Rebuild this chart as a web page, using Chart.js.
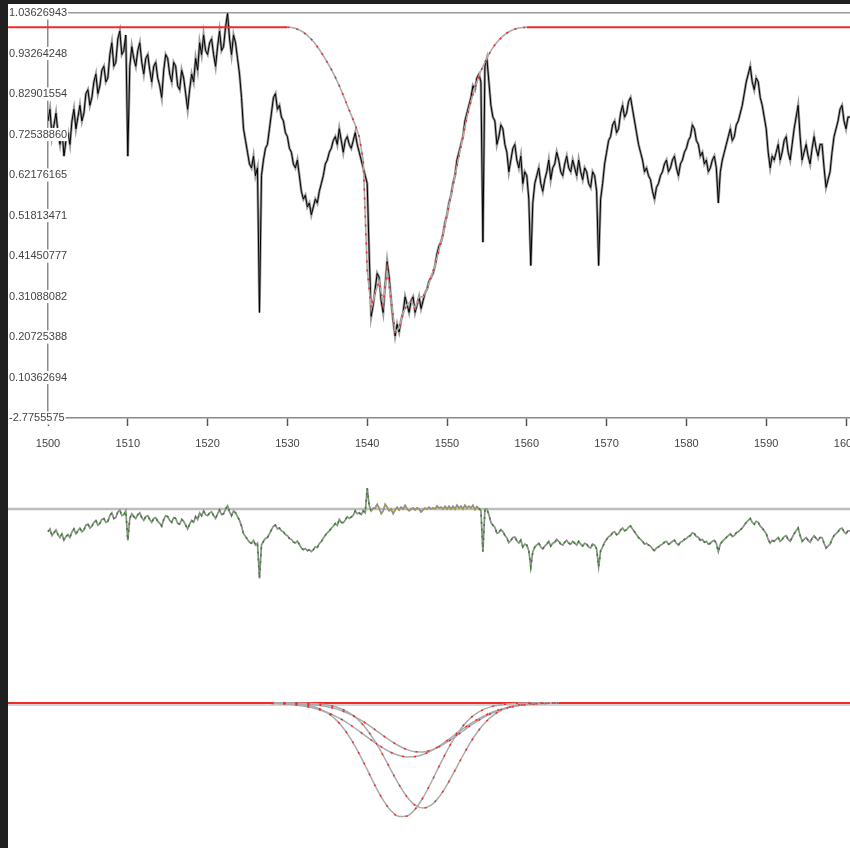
<!DOCTYPE html>
<html><head><meta charset="utf-8">
<script src="https://cdn.jsdelivr.net/npm/chart.js@4/dist/chart.umd.min.js"></script>
<style>
html,body{margin:0;padding:0;background:#202020;width:850px;height:848px;overflow:hidden;}
#sheet{position:absolute;left:8px;top:4px;width:842px;height:844px;background:#fff;}
canvas{position:absolute;left:8px;}
#c1{top:4px;width:842px;height:456px;}
#c2{top:460px;width:842px;height:180px;}
#c3{top:640px;width:842px;height:208px;}
</style></head><body>
<div id="sheet"></div>
<canvas id="c1" width="842" height="456"></canvas>
<canvas id="c2" width="842" height="180"></canvas>
<canvas id="c3" width="842" height="208"></canvas>
<script>
// ---------- data ----------
const wavelength = [
1500,1500.25,1500.5,1500.75,1501,1501.25,1501.5,1501.75,1502,1502.25,1502.5,1502.75,1503,1503.25,1503.5,1503.75,1504,1504.25,1504.5,1504.75,
1505,1505.25,1505.5,1505.75,1506,1506.25,1506.5,1506.75,1507,1507.25,1507.5,1507.75,1508,1508.25,1508.5,1508.75,1509,1509.25,1509.5,1509.75,
1510,1510.25,1510.5,1510.75,1511,1511.25,1511.5,1511.75,1512,1512.25,1512.5,1512.75,1513,1513.25,1513.5,1513.75,1514,1514.25,1514.5,1514.75,
1515,1515.25,1515.5,1515.75,1516,1516.25,1516.5,1516.75,1517,1517.25,1517.5,1517.75,1518,1518.25,1518.5,1518.75,1519,1519.25,1519.5,1519.75,
1520,1520.25,1520.5,1520.75,1521,1521.25,1521.5,1521.75,1522,1522.25,1522.5,1522.75,1523,1523.25,1523.5,1523.75,1524,1524.25,1524.5,1524.75,
1525,1525.25,1525.5,1525.75,1526,1526.25,1526.5,1526.75,1527,1527.25,1527.5,1527.75,1528,1528.25,1528.5,1528.75,1529,1529.25,1529.5,1529.75,
1530,1530.25,1530.5,1530.75,1531,1531.25,1531.5,1531.75,1532,1532.25,1532.5,1532.75,1533,1533.25,1533.5,1533.75,1534,1534.25,1534.5,1534.75,
1535,1535.25,1535.5,1535.75,1536,1536.25,1536.5,1536.75,1537,1537.25,1537.5,1537.75,1538,1538.25,1538.5,1538.75,1539,1539.25,1539.5,1539.75,
1540,1540.25,1540.5,1540.75,1541,1541.25,1541.5,1541.75,1542,1542.25,1542.5,1542.75,1543,1543.25,1543.5,1543.75,1544,1544.25,1544.5,1544.75,
1545,1545.25,1545.5,1545.75,1546,1546.25,1546.5,1546.75,1547,1547.25,1547.5,1547.75,1548,1548.25,1548.5,1548.75,1549,1549.25,1549.5,1549.75,
1550,1550.25,1550.5,1550.75,1551,1551.25,1551.5,1551.75,1552,1552.25,1552.5,1552.75,1553,1553.25,1553.5,1553.75,1554,1554.25,1554.5,1554.75,
1555,1555.25,1555.5,1555.75,1556,1556.25,1556.5,1556.75,1557,1557.25,1557.5,1557.75,1558,1558.25,1558.5,1558.75,1559,1559.25,1559.5,1559.75,
1560,1560.25,1560.5,1560.75,1561,1561.25,1561.5,1561.75,1562,1562.25,1562.5,1562.75,1563,1563.25,1563.5,1563.75,1564,1564.25,1564.5,1564.75,
1565,1565.25,1565.5,1565.75,1566,1566.25,1566.5,1566.75,1567,1567.25,1567.5,1567.75,1568,1568.25,1568.5,1568.75,1569,1569.25,1569.5,1569.75,
1570,1570.25,1570.5,1570.75,1571,1571.25,1571.5,1571.75,1572,1572.25,1572.5,1572.75,1573,1573.25,1573.5,1573.75,1574,1574.25,1574.5,1574.75,
1575,1575.25,1575.5,1575.75,1576,1576.25,1576.5,1576.75,1577,1577.25,1577.5,1577.75,1578,1578.25,1578.5,1578.75,1579,1579.25,1579.5,1579.75,
1580,1580.25,1580.5,1580.75,1581,1581.25,1581.5,1581.75,1582,1582.25,1582.5,1582.75,1583,1583.25,1583.5,1583.75,1584,1584.25,1584.5,1584.75,
1585,1585.25,1585.5,1585.75,1586,1586.25,1586.5,1586.75,1587,1587.25,1587.5,1587.75,1588,1588.25,1588.5,1588.75,1589,1589.25,1589.5,1589.75,
1590,1590.25,1590.5,1590.75,1591,1591.25,1591.5,1591.75,1592,1592.25,1592.5,1592.75,1593,1593.25,1593.5,1593.75,1594,1594.25,1594.5,1594.75,
1595,1595.25,1595.5,1595.75,1596,1596.25,1596.5,1596.75,1597,1597.25,1597.5,1597.75,1598,1598.25,1598.5,1598.75,1599,1599.25,1599.5,1599.75,
1600,1600.25,1600.5];
const flux = [
0.76,0.79,0.72,0.75,0.78,0.73,0.70,0.74,0.67,0.71,0.73,0.70,0.76,0.79,0.74,0.77,0.80,0.76,0.78,0.83,
0.84,0.80,0.82,0.86,0.88,0.83,0.85,0.89,0.90,0.86,0.87,0.93,0.96,0.90,0.91,0.97,0.99,0.93,0.94,0.98,
0.67,0.90,0.95,0.92,0.90,0.94,0.96,0.91,0.88,0.92,0.93,0.89,0.86,0.90,0.91,0.87,0.85,0.82,0.89,0.93,
0.92,0.88,0.86,0.91,0.90,0.85,0.84,0.89,0.87,0.83,0.79,0.84,0.88,0.86,0.92,0.89,0.96,0.93,0.98,0.94,
0.93,0.96,0.97,0.93,0.90,0.95,0.99,0.94,0.95,1.00,1.035,0.97,0.93,0.98,0.96,0.92,0.88,0.82,0.74,0.71,
0.68,0.65,0.64,0.67,0.62,0.64,0.27,0.62,0.66,0.69,0.70,0.74,0.78,0.82,0.83,0.79,0.80,0.77,0.76,0.73,
0.72,0.69,0.68,0.65,0.64,0.66,0.62,0.58,0.56,0.57,0.54,0.55,0.52,0.54,0.56,0.55,0.58,0.60,0.62,0.65,
0.66,0.68,0.69,0.71,0.72,0.70,0.74,0.71,0.68,0.71,0.72,0.70,0.69,0.71,0.73,0.70,0.68,0.66,0.64,0.62,
0.60,0.42,0.26,0.29,0.33,0.37,0.36,0.30,0.27,0.34,0.40,0.36,0.30,0.25,0.21,0.24,0.22,0.25,0.27,0.31,
0.29,0.27,0.30,0.31,0.27,0.29,0.31,0.28,0.30,0.32,0.33,0.35,0.36,0.37,0.39,0.42,0.44,0.45,0.47,0.50,
0.52,0.55,0.57,0.60,0.62,0.66,0.68,0.70,0.72,0.76,0.78,0.80,0.82,0.85,0.84,0.87,0.88,0.86,0.45,0.90,
0.92,0.86,0.80,0.77,0.76,0.70,0.72,0.75,0.74,0.70,0.68,0.63,0.66,0.69,0.70,0.66,0.64,0.67,0.60,0.63,
0.62,0.56,0.39,0.55,0.60,0.62,0.64,0.60,0.58,0.61,0.63,0.66,0.61,0.64,0.65,0.68,0.66,0.63,0.62,0.65,
0.67,0.64,0.63,0.66,0.64,0.62,0.66,0.63,0.61,0.64,0.63,0.60,0.59,0.63,0.62,0.58,0.39,0.56,0.60,0.65,
0.68,0.71,0.72,0.75,0.76,0.73,0.74,0.78,0.80,0.77,0.78,0.81,0.82,0.79,0.76,0.73,0.70,0.68,0.66,0.63,
0.64,0.62,0.61,0.58,0.56,0.59,0.60,0.62,0.63,0.65,0.66,0.63,0.64,0.66,0.67,0.64,0.62,0.65,0.66,0.68,
0.69,0.71,0.72,0.75,0.74,0.71,0.70,0.67,0.68,0.65,0.66,0.63,0.64,0.66,0.67,0.64,0.55,0.63,0.66,0.68,
0.70,0.72,0.74,0.71,0.72,0.75,0.76,0.78,0.80,0.83,0.86,0.88,0.90,0.86,0.84,0.87,0.86,0.82,0.80,0.77,
0.74,0.68,0.64,0.67,0.66,0.68,0.70,0.66,0.68,0.71,0.72,0.68,0.66,0.70,0.74,0.77,0.80,0.72,0.66,0.68,
0.70,0.67,0.65,0.69,0.72,0.69,0.67,0.70,0.70,0.64,0.59,0.61,0.63,0.68,0.72,0.74,0.76,0.79,0.80,0.76,
0.74,0.77,0.77];

const continuumLevel = 1.0;
const continuumStart = 1495;
const continuumEnd = 1600.5;
const modelWave = [
1530,1530.5,1531,1531.5,1532,1532.5,1533,1533.5,1534,1534.5,
1535,1535.5,1536,1536.5,1537,1537.5,1538,1538.5,1539,1539.5,
1540,1540.5,1541,1541.5,1542,1542.5,1543,1543.5,1544,1544.5,
1545,1545.5,1546,1546.5,1547,1547.5,1548,1548.5,1549,1549.5,
1550,1550.5,1551,1551.5,1552,1552.5,1553,1553.5,1554,1554.5,
1555,1555.5,1556,1556.5,1557,1557.5,1558,1558.5,1559,1559.5,
1560];
const modelFlux = [
1.000,0.999,0.997,0.993,0.987,0.979,0.969,0.957,0.943,0.927,
0.910,0.892,0.872,0.850,0.826,0.800,0.775,0.750,0.720,0.660,
0.380,0.280,0.320,0.350,0.290,0.380,0.300,0.220,0.230,0.270,
0.290,0.300,0.280,0.310,0.310,0.330,0.360,0.390,0.430,0.470,
0.520,0.570,0.620,0.670,0.720,0.770,0.810,0.845,0.875,0.900,
0.920,0.940,0.955,0.967,0.977,0.985,0.991,0.995,0.998,0.999,
1.000];

// Gaussian components (depth below continuum)
const compWave = [1528,1529,1530,1531,1532,1533,1534,1535,1536,1537,1538,1539,1540,1541,1542,1543,1544,1545,1546,1547,1548,1549,1550,1551,1552,1553,1554,1555,1556,1557,1558,1559,1560,1561,1562,1563,1564];
const compA = [0.001,0.002,0.004,0.008,0.016,0.031,0.057,0.099,0.161,0.250,0.366,0.508,0.667,0.828,0.971,1.080,1.135,1.129,1.062,0.945,0.796,0.634,0.478,0.341,0.230,0.146,0.089,0.051,0.027,0.014,0.007,0.003,0.001,0.001,0,0,0];
const compB = [0,0,0,0.001,0.002,0.005,0.010,0.019,0.037,0.066,0.111,0.178,0.270,0.387,0.525,0.674,0.818,0.940,1.022,1.050,1.022,0.940,0.818,0.674,0.525,0.387,0.270,0.178,0.111,0.066,0.037,0.019,0.010,0.005,0.002,0.001,0];
const compC = [0.004,0.007,0.012,0.019,0.030,0.045,0.067,0.095,0.131,0.174,0.225,0.282,0.341,0.398,0.451,0.495,0.525,0.539,0.536,0.515,0.479,0.431,0.376,0.317,0.259,0.204,0.156,0.115,0.082,0.057,0.038,0.025,0.016,0.010,0.006,0.003,0.002];
const compD = [0.001,0.001,0.002,0.005,0.008,0.014,0.023,0.037,0.056,0.083,0.118,0.161,0.212,0.268,0.326,0.382,0.430,0.466,0.487,0.489,0.472,0.439,0.392,0.338,0.280,0.222,0.171,0.126,0.090,0.061,0.040,0.025,0.015,0.009,0.005,0.003,0.001];

const xTickValues = [1500,1510,1520,1530,1540,1550,1560,1570,1580,1590,1600];
const xTickLabels = ['1500','1510','1520','1530','1540','1550','1560','1570','1580','1590','1600'];
const yTickValues = [0,0.10362694,0.20725388,0.31088082,0.41450777,0.51813471,0.62176165,0.72538860,0.82901554,0.93264248,1.03626943];
const yTickLabels = ['-2.7755575','0.10362694','0.20725388','0.31088082','0.41450777','0.51813471','0.62176165','0.72538860','0.82901554','0.93264248','1.03626943'];

// ---------- build tables ----------
const RED = '#ee2b2b', GREY = '#adadad';
const fluxPts = wavelength.map((x,i)=>({x, y: flux[i]}));
const modelPts = [{x: continuumStart, y: continuumLevel}]
  .concat(modelWave.map((x,i)=>({x, y: modelFlux[i]})))
  .concat([{x: continuumEnd, y: continuumLevel}]);
const modelCurvePts = modelWave.map((x,i)=>({x, y: modelFlux[i]}));
// model value at a wavelength: the tabulated model sample at or just below it
function modelAt(x) {
  if (x < modelWave[0] || x > modelWave[modelWave.length-1]) return continuumLevel;
  let j = 0;
  while (j + 1 < modelWave.length && modelWave[j+1] <= x) j++;
  return modelFlux[j];
}
const residPts = wavelength.map((x,i)=>({x, y: flux[i] - modelAt(x)}));
const comp = (arr)=>compWave.map((x,i)=>({x, y: arr[i]}));
const isFlat = ctx => ctx.p0.parsed.y >= 0.9995 && ctx.p1.parsed.y >= 0.9995;

Chart.defaults.font.family = "'Liberation Sans', Arial, sans-serif";
Chart.defaults.animation = false;
Chart.defaults.responsive = false;
Chart.defaults.devicePixelRatio = 1;
Chart.defaults.plugins.legend.display = false;
Chart.defaults.plugins.tooltip.enabled = false;
Chart.defaults.elements.point.radius = 0;
Chart.defaults.elements.line.tension = 0;

const X_FULL_MIN = 1494.987, X_MAX = 1600.5;

// ---------- panel 1 : spectrum + model ----------
new Chart(document.getElementById('c1'), {
  type: 'line',
  data: { datasets: [
    { data: fluxPts, borderColor: '#9c9c9c', borderWidth: 2.6, order: 6 },
    { data: fluxPts, borderColor: '#000', borderWidth: 1, order: 5 },
    { data: modelPts, borderColor: GREY, borderWidth: 1.6, order: 4,
      clip: {left: 45, top: 5, right: 5, bottom: 5},
      segment: { borderColor: ctx => isFlat(ctx) ? RED : GREY, borderWidth: ctx => isFlat(ctx) ? 2 : 1.6 } },
    { data: modelCurvePts, borderColor: RED, borderWidth: 1.6, borderDash: [2,7], order: 3,
      segment: { borderColor: ctx => isFlat(ctx) ? 'rgba(0,0,0,0)' : RED } }
  ]},
  options: {
    parsing: false,
    layout: { padding: { left: 1, top: 9, right: 0, bottom: 0 } },
    scales: {
      x: { type: 'linear', min: 1500, max: X_MAX,
        afterBuildTicks: s => { s.ticks = xTickValues.map(v=>({value: v})); },
        afterFit: s => { s.height = 42; s.paddingLeft = 0; s.paddingRight = 0; },
        ticks: { callback: (v,i)=>xTickLabels[i], font: {size: 11}, color: '#444', padding: 11, maxRotation: 0, autoSkip: false },
        grid: { drawOnChartArea: false, drawTicks: true, tickLength: 8, tickColor: '#555', tickWidth: 1.5 },
        border: { color: '#8a8a8a', width: 1.5 } },
      y: { type: 'linear', min: 0, max: 1.03626943,
        afterBuildTicks: s => { s.ticks = yTickValues.map(v=>({value: v})); },
        afterFit: s => { s.width = 39; s.paddingTop = 0; s.paddingBottom = 0; },
        ticks: { callback: (v,i)=>yTickLabels[i], mirror: true, padding: -39, crossAlign: 'near', font: {size: 11}, color: '#444',
          showLabelBackdrop: true, backdropColor: '#fff', backdropPadding: {x: 1, y: 0}, autoSkip: false, z: 1 },
        grid: { drawTicks: false, lineWidth: 1.5,
          color: ctx => (ctx.type === 'tick' && ctx.index === yTickValues.length - 1) ? '#9a9a9a' : 'rgba(0,0,0,0)' },
        border: { color: '#8a8a8a', width: 1.5 } }
    }
  }
});

// ---------- panel 2 : residuals ----------
new Chart(document.getElementById('c2'), {
  type: 'line',
  data: { datasets: [
    { data: [{x: X_FULL_MIN, y: 0}, {x: X_MAX, y: 0}], borderColor: '#bdbdbd', borderWidth: 2.5, order: 5 },
    { data: residPts, borderColor: '#8e8e8e', borderWidth: 1.7, order: 4 },
    { data: residPts, borderColor: '#2f8a1f', borderWidth: 1.6, borderDash: [2,5], order: 3,
      segment: { borderColor: ctx => (ctx.p0.parsed.x >= 1540.5 && ctx.p1.parsed.x <= 1554) ? '#b29b2c' : '#2f8a1f' } }
  ]},
  options: {
    parsing: false,
    layout: { padding: 0 },
    scales: {
      x: { type: 'linear', display: false, min: X_FULL_MIN, max: X_MAX },
      y: { type: 'linear', display: false, min: -1.379, max: 0.516 }
    }
  }
});

// ---------- panel 3 : components ----------
const compSets = [compA, compB, compC, compD];
const ds3 = [
  { data: [{x: X_FULL_MIN, y: 0.02}, {x: X_MAX, y: 0.02}], borderColor: '#c4c4c4', borderWidth: 1.5, order: 9 },
  { data: [{x: X_FULL_MIN, y: 0}, {x: X_MAX, y: 0}], borderColor: RED, borderWidth: 2, order: 8 }
];
compSets.forEach(a => ds3.push({ data: comp(a), borderColor: '#ababab', borderWidth: 1.5, cubicInterpolationMode: 'monotone', order: 6 }));
compSets.forEach(a => ds3.push({ data: comp(a), borderColor: RED, borderWidth: 1.5, borderDash: [2,10], cubicInterpolationMode: 'monotone', order: 5 }));
new Chart(document.getElementById('c3'), {
  type: 'line',
  data: { datasets: ds3 },
  options: {
    parsing: false,
    layout: { padding: 0 },
    scales: {
      x: { type: 'linear', display: false, min: X_FULL_MIN, max: X_MAX },
      y: { type: 'linear', display: false, reverse: true, min: -0.63, max: 1.45 }
    }
  }
});
</script>
</body></html>
